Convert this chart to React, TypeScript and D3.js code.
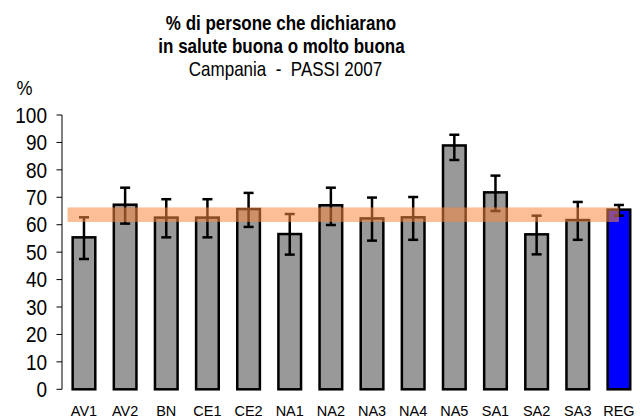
import React from "react";
import * as d3 from "d3";

const categories = ["AV1", "AV2", "BN", "CE1", "CE2", "NA1", "NA2", "NA3", "NA4", "NA5", "SA1", "SA2", "SA3", "REG"];
const values = [55.4, 67.3, 62.6, 62.6, 65.7, 56.6, 67.1, 62.3, 62.7, 88.9, 71.8, 56.5, 61.7, 65.5];
const errLow = [47.5, 60.4, 55.4, 55.4, 59.2, 49.1, 59.9, 54.2, 54.5, 83.6, 65.0, 49.2, 54.5, 63.3];
const errHigh = [62.7, 73.5, 69.3, 69.3, 71.6, 63.9, 73.5, 69.9, 70.1, 92.8, 77.9, 63.3, 68.3, 67.2];
const regionBand = [61.0, 66.3];
const yTicks = [0, 10, 20, 30, 40, 50, 60, 70, 80, 90, 100];
const titleLines = ["% di persone che dichiarano", "in salute buona o molto buona"];
const subtitle = "Campania  -  PASSI 2007";

function SText(props: { x: number; y: number; sy: number; size: number; bold?: boolean; anchor?: string; dy?: string; children: any }) {
  return (
    <g transform={`translate(${props.x},${props.y}) scale(1,${props.sy})`}>
      <text x={0} y={0} dy={props.dy} textAnchor={props.anchor || "middle"} fontSize={props.size}
        fontWeight={props.bold ? "bold" : "normal"} style={{ whiteSpace: "pre" }}>{props.children}</text>
    </g>
  );
}

export default function App() {
  const W = 643, H = 419;
  const x = d3.scaleBand<string>().domain(categories).range([63.4, 639.5]).paddingInner(0.45).paddingOuter(0.225);
  const y = d3.scaleLinear().domain([0, 100]).range([389.3, 115]);
  const axisX = 62;
  const font = "'Liberation Sans', Arial, sans-serif";
  const bw = x.bandwidth();
  const capW = 10;
  const lastCenter = (x("REG") as number) + bw / 2;

  return (
    <svg width={W} height={H} style={{ position: "absolute", left: 0, top: 0 }} fontFamily={font}>
      <rect width={W} height={H} fill="white" />
      <SText x={281} y={30} sy={1.22} size={17} bold>{titleLines[0]}</SText>
      <SText x={281.5} y={53.3} sy={1.22} size={17} bold>{titleLines[1]}</SText>
      <SText x={285.5} y={75.5} sy={1.22} size={17}>{subtitle}</SText>
      <SText x={24.5} y={95} sy={1.1} size={18}>%</SText>

      <line x1={axisX} x2={axisX} y1={y(100)} y2={y(0)} stroke="black" strokeWidth={1} />
      {yTicks.map((t) => (
        <g key={t}>
          <line x1={axisX - 5.5} x2={axisX} y1={y(t)} y2={y(t)} stroke="black" strokeWidth={1} />
          <SText x={47} y={y(t)} sy={1.12} size={19} anchor="end" dy="0.36em">{t}</SText>
        </g>
      ))}

      {categories.map((c, i) => {
        const x0 = x(c) as number;
        const cx = x0 + bw / 2;
        return (
          <g key={c}>
            <rect x={x0} y={y(values[i])} width={bw} height={y(0) - y(values[i])}
              fill={c === "REG" ? "#0000FF" : "#999999"} stroke="black" strokeWidth={2.5} />
            <line x1={cx} x2={cx} y1={y(errLow[i])} y2={y(errHigh[i])} stroke="black" strokeWidth={2.5} />
            <line x1={cx - capW / 2} x2={cx + capW / 2} y1={y(errLow[i])} y2={y(errLow[i])} stroke="black" strokeWidth={2.5} />
            <line x1={cx - capW / 2} x2={cx + capW / 2} y1={y(errHigh[i])} y2={y(errHigh[i])} stroke="black" strokeWidth={2.5} />
            <SText x={cx} y={415.5} sy={1.05} size={14.5}>{c}</SText>
          </g>
        );
      })}

      <rect x={67.5} y={y(regionBand[1])} width={lastCenter - 67.5} height={y(regionBand[0]) - y(regionBand[1])}
        fill="#F7883F" fillOpacity={0.55} />
    </svg>
  );
}
